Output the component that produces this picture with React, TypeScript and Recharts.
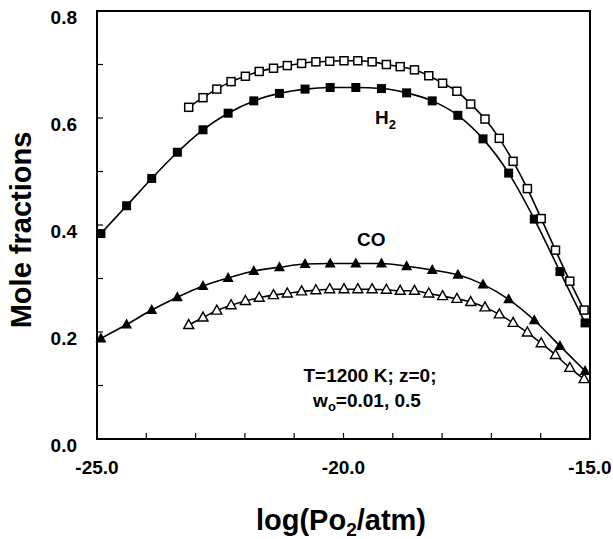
import { ComposedChart, Line, XAxis, YAxis, ReferenceArea } from "recharts"

// x positions of the two sets of points (log Po2)
const xCoarse = [
  -24.92, -24.4, -23.89, -23.37, -22.85, -22.34, -21.82, -21.3, -20.78, -20.27,
  -19.75, -19.23, -18.72, -18.2, -17.68, -17.17, -16.65, -16.13, -15.61, -15.1,
]
const xDense = [
  -23.14, -22.85, -22.57, -22.28, -21.99, -21.71, -21.42, -21.14, -20.85, -20.56,
  -20.28, -19.99, -19.71, -19.42, -19.13, -18.85, -18.56, -18.27, -17.99, -17.7,
  -17.42, -17.13, -16.84, -16.56, -16.27, -15.99, -15.7, -15.41, -15.12,
]

const h2Filled = [
  0.384, 0.436, 0.487, 0.536, 0.578, 0.609, 0.632, 0.646, 0.654, 0.657,
  0.657, 0.655, 0.647, 0.632, 0.605, 0.561, 0.497, 0.411, 0.313, 0.217,
]
const h2Open = [
  0.62, 0.638, 0.654, 0.668, 0.678, 0.687, 0.693, 0.698, 0.702, 0.705,
  0.706, 0.707, 0.707, 0.705, 0.7, 0.696, 0.69, 0.679, 0.665, 0.65,
  0.626, 0.598, 0.562, 0.519, 0.468, 0.412, 0.353, 0.295, 0.241,
]
const coFilled = [
  0.188, 0.214, 0.241, 0.265, 0.286, 0.301, 0.314, 0.321, 0.327, 0.328,
  0.328, 0.328, 0.323, 0.316, 0.307, 0.289, 0.261, 0.222, 0.174, 0.127,
]
const coOpen = [
  0.213, 0.227, 0.24, 0.25, 0.258, 0.264, 0.269, 0.272, 0.276, 0.278,
  0.28, 0.28, 0.28, 0.28, 0.279, 0.277, 0.277, 0.272, 0.267, 0.262,
  0.256, 0.246, 0.233, 0.217, 0.199, 0.179, 0.157, 0.133, 0.112,
]

const xTicks = [-25, -24, -23, -22, -21, -20, -19, -18, -17, -16, -15]
const xLabels = [-25, -20, -15]
const yTicks = [0, 0.1, 0.2, 0.3, 0.4, 0.5, 0.6, 0.7, 0.8]
const yLabels = [0, 0.2, 0.4, 0.6, 0.8]

const toPoints = (xs: number[], ys: number[]) => xs.map((x, i) => ({ x, y: ys[i] }))

const FONT = "'Liberation Sans', Arial, sans-serif"

// tick props give the axis-line position because tickSize and tickMargin are 0
const renderXTick = (props: any) => {
  const { x, y, payload, index } = props
  const v = payload.value
  return (
    <g key={`xt${index}`}>
      <line x1={x} x2={x} y1={y} y2={y - 6} stroke="#000" strokeWidth={1.2} />
      {xLabels.includes(v) && (
        <text x={x} y={y + 35} textAnchor="middle" fontFamily={FONT} fontWeight="bold" fontSize={19} fill="#000">
          {v.toFixed(1)}
        </text>
      )}
    </g>
  )
}

const renderYTick = (props: any) => {
  const { x, y, payload, index } = props
  const v = payload.value
  const show = yLabels.some((l) => Math.abs(l - v) < 1e-6)
  return (
    <g key={`yt${index}`}>
      <line x1={x} x2={x + 6} y1={y} y2={y} stroke="#000" strokeWidth={1.2} />
      {show && (
        <text x={x - 20} y={y + 13} textAnchor="end" fontFamily={FONT} fontWeight="bold" fontSize={19} fill="#000">
          {v.toFixed(1)}
        </text>
      )}
    </g>
  )
}

const squareFilled = (p: any) => (
  <rect key={`sf${p.index}`} x={p.cx - 4.5} y={p.cy - 4.5} width={9} height={9} fill="#000" />
)
const squareOpen = (p: any) => (
  <rect key={`so${p.index}`} x={p.cx - 4} y={p.cy - 4} width={8} height={8} fill="#fff" stroke="#000" strokeWidth={1.5} />
)
const triFilled = (p: any) => (
  <path key={`tf${p.index}`} d={`M${p.cx},${p.cy - 6} L${p.cx + 5.5},${p.cy + 4} L${p.cx - 5.5},${p.cy + 4} Z`} fill="#000" />
)
const triOpen = (p: any) => (
  <path
    key={`to${p.index}`}
    d={`M${p.cx},${p.cy - 5.5} L${p.cx + 5},${p.cy + 3.5} L${p.cx - 5},${p.cy + 3.5} Z`}
    fill="#fff"
    stroke="#000"
    strokeWidth={1.4}
  />
)

export default function App() {
  return (
    <div style={{ position: "absolute", left: 0, top: 0, width: 613, height: 539, background: "#fff" }}>
      <ComposedChart width={613} height={539} margin={{ top: 11, right: 23, bottom: 99, left: 96 }}>
        <XAxis
          dataKey="x"
          type="number"
          domain={[-25, -15]}
          ticks={xTicks}
          height={1}
          tickSize={0}
          tickMargin={0}
          tick={renderXTick}
          interval={0}
          axisLine={{ stroke: "#000", strokeWidth: 2 }}
        />
        <YAxis
          type="number"
          domain={[0, 0.8]}
          ticks={yTicks}
          width={1}
          tickSize={0}
          tickMargin={0}
          tick={renderYTick}
          interval={0}
          axisLine={{ stroke: "#000", strokeWidth: 2 }}
        />
        <ReferenceArea x1={-25} x2={-15} y1={0} y2={0.8} fill="none" stroke="#000" strokeWidth={2} />
        <Line data={toPoints(xCoarse, h2Filled)} dataKey="y" type="monotone" stroke="#000" strokeWidth={1.6} dot={squareFilled} isAnimationActive={false} />
        <Line data={toPoints(xDense, h2Open)} dataKey="y" type="monotone" stroke="#000" strokeWidth={1.6} dot={squareOpen} isAnimationActive={false} />
        <Line data={toPoints(xCoarse, coFilled)} dataKey="y" type="monotone" stroke="#000" strokeWidth={1.6} dot={triFilled} isAnimationActive={false} />
        <Line data={toPoints(xDense, coOpen)} dataKey="y" type="monotone" stroke="#000" strokeWidth={1.6} dot={triOpen} isAnimationActive={false} />
      </ComposedChart>
      <svg width={613} height={539} style={{ position: "absolute", left: 0, top: 0, pointerEvents: "none" }}>
        <g fontFamily={FONT} fontWeight="bold" fill="#000">
          <text x={375} y={124} fontSize={19}>
            H<tspan fontSize={13} dy={5}>2</tspan>
          </text>
          <text x={357} y={246} fontSize={19}>CO</text>
          <text x={370} y={382} fontSize={19} textAnchor="middle">T=1200 K; z=0;</text>
          <text x={367} y={407} fontSize={19} textAnchor="middle">
            w<tspan fontSize={13} dy={4}>o</tspan><tspan dy={-4}>=0.01, 0.5</tspan>
          </text>
          <text x={31} y={230} fontSize={29} textAnchor="middle" transform="rotate(-90 31 230)">Mole fractions</text>
          <text x={341} y={530} fontSize={29} textAnchor="middle">
            log(Po<tspan fontSize={19} dy={6}>2</tspan><tspan dy={-6}>/atm)</tspan>
          </text>
        </g>
      </svg>
    </div>
  )
}
